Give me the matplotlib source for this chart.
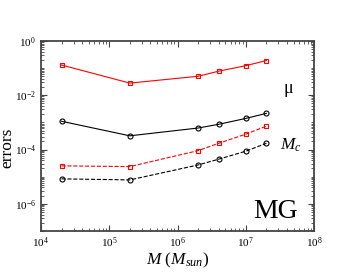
import numpy as np
import matplotlib
matplotlib.use('Agg')
from matplotlib import pyplot as plt
from matplotlib.ticker import LogLocator, NullFormatter

plt.rcParams['font.family'] = ['Liberation Serif', 'DejaVu Serif']
plt.rcParams['mathtext.fontset'] = 'custom'
plt.rcParams['mathtext.rm'] = 'Liberation Serif'
plt.rcParams['mathtext.it'] = 'Liberation Serif:italic'

mass = [2e4, 2e5, 2e6, 4e6, 1e7, 2e7]
mu_red = [0.13, 0.028, 0.05, 0.077, 0.123, 0.19]
mu_black = [1.1e-3, 3.2e-4, 6.2e-4, 8.5e-4, 1.4e-3, 2.15e-3]
mc_red = [2.5e-5, 2.35e-5, 9.1e-5, 1.7e-4, 3.7e-4, 7.3e-4]
mc_black = [8.3e-6, 7.6e-6, 2.7e-5, 4.4e-5, 8.7e-5, 1.7e-4]

fig = plt.figure(figsize=(3.53, 2.73), dpi=100)
ax = fig.add_axes([0.116, 0.154, 0.774, 0.696])

ax.plot(mass, mu_red, '-', color='red', lw=0.8, marker='s', ms=3.2, mfc='none', mew=0.8)
ax.plot(mass, mu_black, '-', color='black', lw=0.8, marker='o', ms=3.6, mfc='none', mew=0.8)
ax.plot(mass, mc_red, '--', color='red', lw=0.8, marker='s', ms=3.2, mfc='none', mew=0.8)
ax.plot(mass, mc_black, '--', color='black', lw=0.8, marker='o', ms=3.6, mfc='none', mew=0.8)

ax.set_xscale('log')
ax.set_yscale('log')
ax.set_xlim(1e4, 1e8)
ax.set_ylim(1e-7, 1)

ax.xaxis.set_major_locator(LogLocator(base=10, numticks=10))
ax.xaxis.set_minor_locator(LogLocator(base=10, subs=np.arange(2, 10), numticks=50))
ax.yaxis.set_major_locator(LogLocator(base=100, numticks=10))
ax.yaxis.set_minor_locator(LogLocator(base=10, subs=np.arange(1, 10), numticks=50))
ax.xaxis.set_minor_formatter(NullFormatter())
ax.yaxis.set_minor_formatter(NullFormatter())

ax.tick_params(which='both', direction='in', top=True, right=True, labelsize=8, color='#444444')
ax.tick_params(which='major', length=4, width=0.8)
ax.tick_params(which='minor', length=2, width=0.6)
for s in ax.spines.values():
    s.set_color('#444444')
    s.set_linewidth(1.3)

ax.set_ylabel('errors', fontsize=12.5, labelpad=3)
ax.yaxis.set_label_coords(-0.095, 0.44)
ax.set_xlabel(r'$M\ (M_{sun})$', fontsize=12.5, labelpad=0)

ax.text(0.905, 0.75, 'μ', transform=ax.transAxes, fontsize=13, ha='center', va='center')
ax.text(0.915, 0.45, r'$M_c$', transform=ax.transAxes, fontsize=12.5, ha='center', va='center')
ax.text(0.86, 0.1, 'MG', transform=ax.transAxes, fontsize=20, ha='center', va='center')

fig.savefig('out.png', dpi=100)
